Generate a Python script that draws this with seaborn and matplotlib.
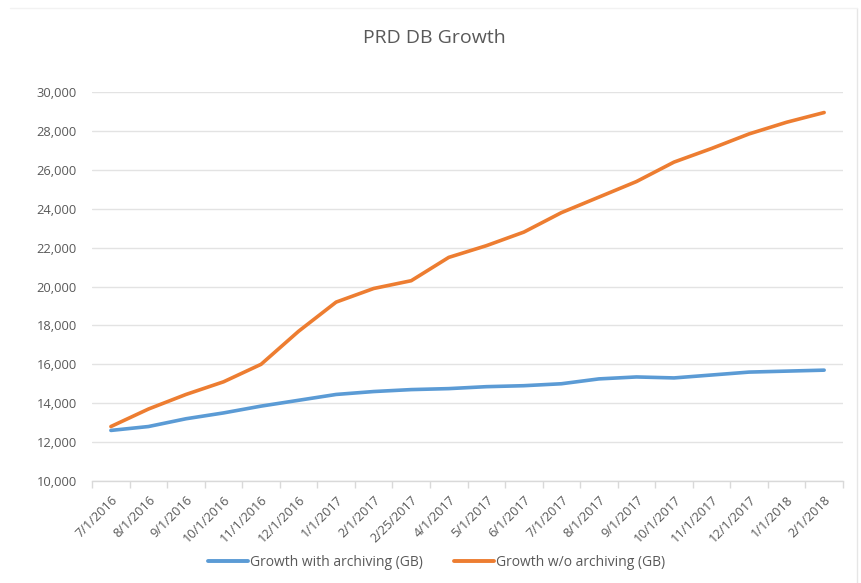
import matplotlib
matplotlib.use("Agg")
import matplotlib.pyplot as plt
from matplotlib.lines import Line2D
import seaborn as sns
import pandas as pd
import numpy as np

dates = ["7/1/2016", "8/1/2016", "9/1/2016", "10/1/2016", "11/1/2016", "12/1/2016",
         "1/1/2017", "2/1/2017", "2/25/2017", "4/1/2017", "5/1/2017", "6/1/2017",
         "7/1/2017", "8/1/2017", "9/1/2017", "10/1/2017", "11/1/2017", "12/1/2017",
         "1/1/2018", "2/1/2018"]
with_archiving = [12600, 12800, 13200, 13500, 13850, 14150, 14450, 14600, 14700, 14750,
                  14850, 14900, 15000, 15250, 15350, 15300, 15450, 15600, 15650, 15700]
without_archiving = [12800, 13700, 14450, 15100, 16000, 17700, 19200, 19900, 20300, 21500,
                     22100, 22800, 23800, 24600, 25400, 26400, 27100, 27850, 28450, 28950]
series_names = ["Growth with archiving (GB)", "Growth w/o archiving (GB)"]
colors = ["#5B9BD5", "#ED7D31"]

df = pd.DataFrame({
    "date": dates * 2,
    "value": with_archiving + without_archiving,
    "series": [series_names[0]] * len(dates) + [series_names[1]] * len(dates),
})

sns.set_theme(style="white")
plt.rcParams["font.family"] = ["Open Sans", "DejaVu Sans"]
text_color = "#595959"

fig = plt.figure(figsize=(8.61, 5.83), dpi=100)
ax = fig.add_axes([0.107, 0.175, 0.872, 0.667])

sns.lineplot(data=df, x="date", y="value", hue="series", palette=colors,
             linewidth=2.6, ax=ax, sort=False)

ax.set_xlim(-0.5, len(dates) - 0.5)
ax.set_ylim(10000, 30000)
yt = list(range(10000, 30001, 2000))
ax.set_yticks(yt)
ax.set_yticklabels([f"{v:,}" for v in yt], fontsize=9.3, color=text_color)
ax.yaxis.grid(True, color="#E3E3E3", linewidth=1)
ax.set_axisbelow(True)
ax.tick_params(axis="y", length=0, pad=11)

ax.set_xticks(range(len(dates)))
ax.set_xticklabels(dates, rotation=45, ha="right", rotation_mode="anchor",
                   fontsize=9.2, color=text_color)
ax.set_xticks(np.arange(-0.5, len(dates), 1), minor=True)
ax.tick_params(axis="x", which="major", length=0, pad=9)
ax.tick_params(axis="x", which="minor", length=5, color="#D9D9D9", width=1, bottom=True)

for s in ["top", "right", "left"]:
    ax.spines[s].set_visible(False)
ax.spines["bottom"].set_color("#D9D9D9")
ax.spines["bottom"].set_linewidth(1)

ax.set_xlabel("")
ax.set_ylabel("")

fig.text(0.505, 0.935, "PRD DB Growth", ha="center", va="center", fontsize=14, color=text_color)

handles, labels = ax.get_legend_handles_labels()
ax.get_legend().remove()
leg = fig.legend(handles, labels, loc="center", bbox_to_anchor=(0.507, 0.036), ncol=2,
                 frameon=False, fontsize=10, handlelength=2.9, handletextpad=0.15,
                 columnspacing=2.2)
for t in leg.get_texts():
    t.set_color(text_color)
for l in leg.get_lines():
    l.set_linewidth(2.8)

# faint chart border as in the screenshot
fig.add_artist(Line2D([857 / 861, 857 / 861], [0, 1 - 8 / 583], transform=fig.transFigure,
                      color="#E6E6E6", linewidth=1))
fig.add_artist(Line2D([10 / 861, 857 / 861], [1 - 8 / 583, 1 - 8 / 583], transform=fig.transFigure,
                      color="#F2F2F2", linewidth=1))

fig.savefig("out.png", dpi=100, facecolor="white")
